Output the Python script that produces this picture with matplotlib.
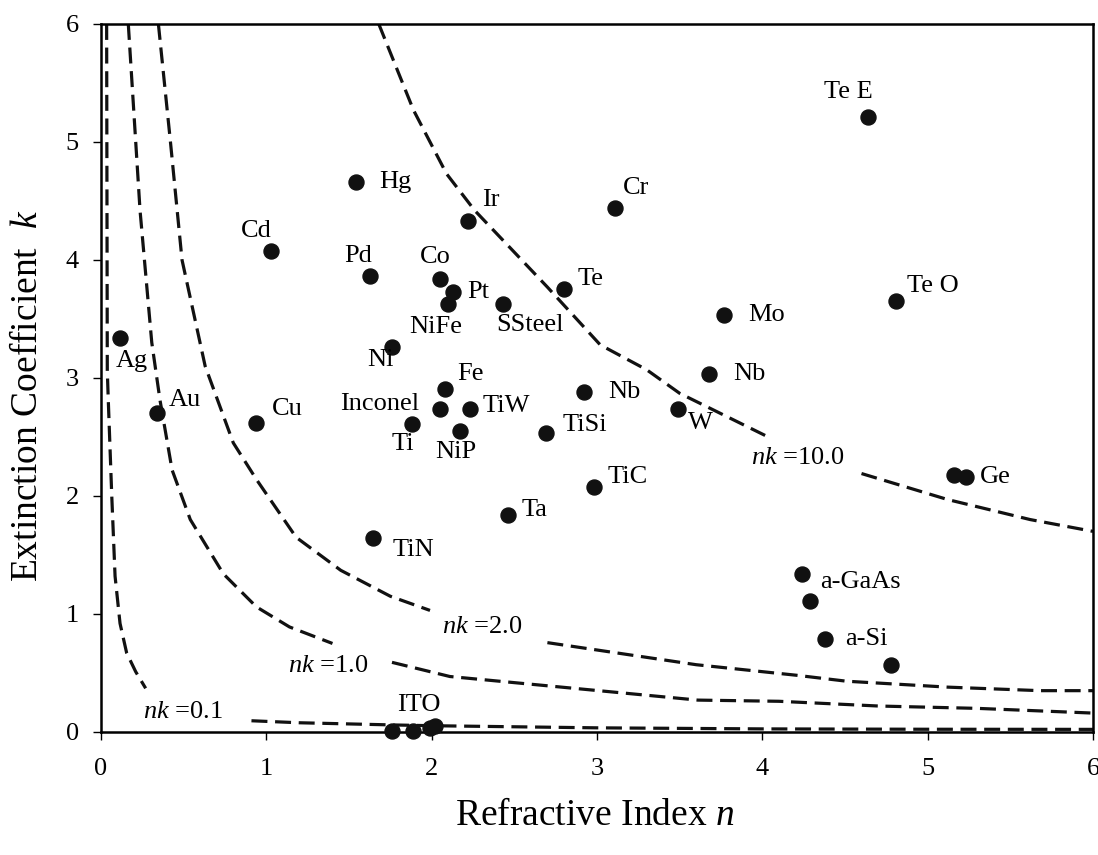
import matplotlib
matplotlib.use("Agg")
import matplotlib.pyplot as plt

plt.rcParams['font.family'] = ['Liberation Serif', 'DejaVu Serif']
plt.rcParams['mathtext.fontset'] = 'custom'
plt.rcParams['mathtext.rm'] = 'Liberation Serif'
plt.rcParams['mathtext.it'] = 'Liberation Serif:italic'

# optical constants of the films (n, k)
names = ["Ag", "Au", "Cu", "Cd", "Hg", "Pd", "Ni", "Co", "Pt", "NiFe", "Ir",
         "SSteel", "Te", "Cr", "Mo", "Te E", "Te O", "Fe", "Inconel", "TiW",
         "Ti", "NiP", "Nb", "TiSi", "Nb", "W", "TiC", "Ta", "TiN", "", "Ge",
         "a-GaAs", "", "a-Si", "", "", "ITO", "", ""]
n_vals = [0.115, 0.34, 0.94, 1.03, 1.54, 1.63, 1.76, 2.05, 2.13, 2.10, 2.22,
          2.43, 2.80, 3.11, 3.77, 4.64, 4.81, 2.08, 2.05, 2.23,
          1.88, 2.17, 2.92, 2.69, 3.68, 3.49, 2.98, 2.46, 1.645, 5.16, 5.23,
          4.24, 4.29, 4.38, 4.78, 1.76, 1.89, 1.99, 2.02]
k_vals = [3.34, 2.70, 2.62, 4.08, 4.66, 3.86, 3.26, 3.84, 3.73, 3.63, 4.33,
          3.63, 3.75, 4.44, 3.53, 5.21, 3.65, 2.91, 2.74, 2.74,
          2.61, 2.55, 2.88, 2.53, 3.03, 2.74, 2.08, 1.84, 1.64, 2.18, 2.16,
          1.34, 1.11, 0.79, 0.57, 0.01, 0.01, 0.03, 0.05]

# constant nk contours, each split where its label sits
nk01_a_n = [0.034, 0.038, 0.044, 0.065, 0.085, 0.115, 0.155, 0.21, 0.27]
nk01_a_k = [6.0, 3.06, 2.81, 2.0, 1.32, 0.92, 0.67, 0.51, 0.37]
nk01_b_n = [0.91, 1.2, 1.75, 2.0, 3.0, 4.0, 5.0, 6.0]
nk01_b_k = [0.095, 0.078, 0.06, 0.053, 0.035, 0.026, 0.023, 0.022]

nk1_a_n = [0.165, 0.236, 0.307, 0.357, 0.43, 0.54, 0.74, 0.94, 1.14, 1.40]
nk1_a_k = [6.0, 4.42, 3.3, 2.81, 2.22, 1.80, 1.34, 1.06, 0.89, 0.75]
nk1_b_n = [1.76, 2.11, 3.61, 4.1, 4.7, 5.3, 6.0]
nk1_b_k = [0.59, 0.47, 0.27, 0.26, 0.22, 0.20, 0.16]

nk2_a_n = [0.347, 0.42, 0.49, 0.63, 0.8, 0.94, 1.18, 1.45, 1.75, 1.99]
nk2_a_k = [6.0, 5.0, 4.0, 3.1, 2.45, 2.14, 1.65, 1.37, 1.15, 1.03]
nk2_b_n = [2.70, 3.60, 4.21, 4.51, 5.12, 5.68, 6.0]
nk2_b_k = [0.757, 0.57, 0.48, 0.43, 0.38, 0.35, 0.35]

nk10_a_n = [1.68, 1.89, 2.09, 2.26, 2.70, 3.02, 3.30, 3.50, 4.05]
nk10_a_k = [6.0, 5.27, 4.73, 4.42, 3.77, 3.28, 3.07, 2.87, 2.49]
nk10_b_n = [4.60, 5.12, 5.62, 6.0]
nk10_b_k = [2.19, 1.97, 1.80, 1.70]

ticks = [0, 1, 2, 3, 4, 5, 6]

# label offsets in pixels (dx, dy up) and alignment
label_pos = {
    0: (12, -23, "center"), 1: (12, 13, "left"), 2: (15, 14, "left"),
    3: (-15, 20, "center"), 4: (24, 0, "left"), 5: (-12, 20, "center"),
    6: (-12, -13, "center"), 7: (-5, 22, "center"), 8: (14, 0, "left"),
    9: (-12, -23, "center"), 10: (14, 21, "left"), 11: (27, -21, "center"),
    12: (14, 10, "left"), 13: (8, 20, "left"), 14: (24, 0, "left"),
    15: (-20, 25, "center"), 16: (11, 15, "left"), 17: (12, 15, "left"),
    18: (-21, 5, "right"), 19: (13, 3, "left"), 20: (-9, -20, "center"),
    21: (-4, -21, "center"), 22: (24, 0, "left"), 23: (17, 8, "left"),
    24: (24, 0, "left"), 25: (22, -14, "center"), 26: (14, 10, "left"),
    27: (14, 5, "left"), 28: (20, -12, "left"), 30: (14, 0, "left"),
    31: (18, -8, "left"), 33: (20, 0, "left"), 36: (5, 26, "center"),
}

fig = plt.figure(figsize=(10.98, 8.55), dpi=100)
ax = fig.add_axes([0.092, 0.1439, 0.9034, 0.8281])

for cn, ck in [(nk01_a_n, nk01_a_k), (nk01_b_n, nk01_b_k),
               (nk1_a_n, nk1_a_k), (nk1_b_n, nk1_b_k),
               (nk2_a_n, nk2_a_k), (nk2_b_n, nk2_b_k),
               (nk10_a_n, nk10_a_k), (nk10_b_n, nk10_b_k)]:
    ax.plot(cn, ck, color="#111111", lw=2.3, dashes=(5, 2.4), zorder=2)

ax.plot(n_vals, k_vals, "o", color="#111111", ms=10.8, zorder=3, clip_on=False)

for i, name in enumerate(names):
    if not name or i not in label_pos:
        continue
    dx, dy, ha = label_pos[i]
    ax.annotate(name, (n_vals[i], k_vals[i]), xytext=(dx, dy),
                textcoords="offset pixels", ha=ha, va="center", fontsize=19)

ax.text(3.93, 2.32, r"$nk$ =10.0", fontsize=19, va="center")
ax.text(2.06, 0.89, r"$nk$ =2.0", fontsize=19, va="center")
ax.text(1.13, 0.56, r"$nk$ =1.0", fontsize=19, va="center")
ax.text(0.256, 0.17, r"$nk$ =0.1", fontsize=19, va="center")

ax.set_xlim(0, 6)
ax.set_ylim(0, 6)
ax.set_xticks(ticks)
ax.set_yticks(ticks)
ax.tick_params(direction="out", length=6, width=1, labelsize=19)
ax.tick_params(axis="x", pad=13)
ax.tick_params(axis="y", pad=10)
for s in ax.spines.values():
    s.set_linewidth(1.8)

ax.set_xlabel("Refractive Index $n$", fontsize=27, va="center")
ax.xaxis.set_label_coords(0.498, -0.118)
ax.set_ylabel("Extinction Coefficient  $k$", fontsize=27, va="center")
ax.yaxis.set_label_coords(-0.074, 0.474)

fig.savefig("out.png", dpi=100)
